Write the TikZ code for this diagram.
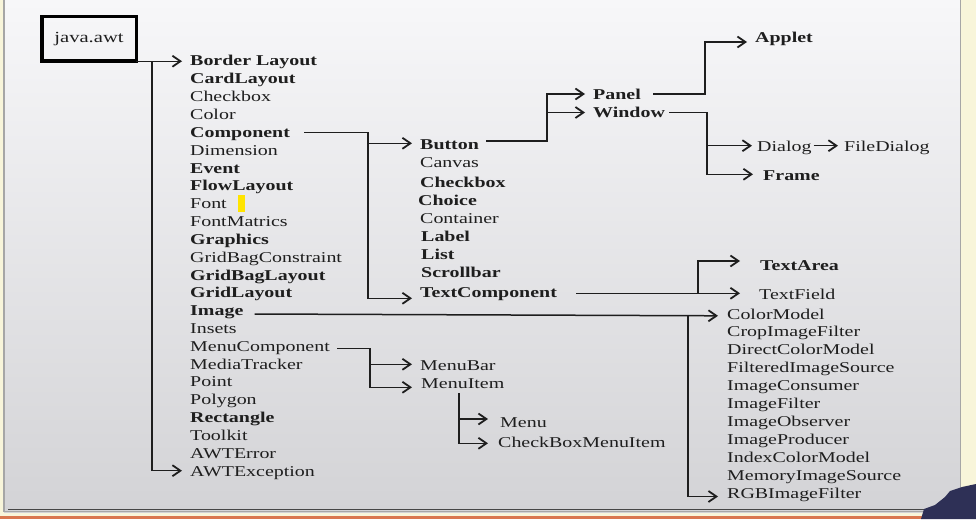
\documentclass[tikz,border=0pt]{standalone}
\usepackage{fontspec}
\setmainfont{Liberation Serif}[FakeStretch=1.33]
\usetikzlibrary{arrows.meta}
\definecolor{txt}{HTML}{1E1E1E}
\definecolor{paleyel}{HTML}{F8F5DA}
\definecolor{slidetop}{HTML}{F7F7F9}
\definecolor{slidebot}{HTML}{D3D3D6}
\definecolor{person}{HTML}{2E3056}
\definecolor{marker}{HTML}{FFE400}
\definecolor{redline}{HTML}{D9774F}
\tikzset{
  itm/.style={anchor=base west, inner sep=0pt, text=txt, font=\fontsize{15}{18}\selectfont},
  bitm/.style={itm, font=\fontsize{15}{18}\selectfont\bfseries},
  arr/.style={line width=1.5pt, draw=txt, -{Straight Barb[length=8pt,width=11pt,line width=1.8pt]}},
  topbox/.style={draw=black, line width=3.5pt, outer sep=0pt, minimum width=94.5pt, minimum height=44.5pt, inner sep=0pt, text=txt, font=\fontsize{15.5}{18}\selectfont}
}
\begin{document}
\begin{tikzpicture}[x=1pt,y=-1pt]
\useasboundingbox (0,0) rectangle (976,519);
% background
\fill[paleyel] (0,0) rectangle (976,519);
\shade[top color=slidetop, bottom color=slidebot] (4,0) rectangle (960.5,512);
\draw[gray!70, line width=1.2pt] (4,-2) -- (4,511.5) -- (960.5,511.5) -- (960.5,-2);
\draw[gray!55!black, line width=1pt] (8,509.5) -- (957,509.5);
\fill[redline] (0,515.5) rectangle (976,519);
\fill[marker] (238,195) rectangle (244.5,212);

% root box
\node[topbox] (box) at (89,39) {java.awt};

% left column
\node[bitm] (bl)   at (190,66)    {Border Layout};
\node[bitm] (card) at (190,83.8)  {CardLayout};
\node[itm]  (chk)  at (190,101.7) {Checkbox};
\node[itm]  (col)  at (190,119.5) {Color};
\node[bitm] (comp) at (190,137.3) {Component};
\node[itm]  (dim)  at (190,155.2) {Dimension};
\node[bitm] (evt)  at (190,173)   {Event};
\node[bitm] (flow) at (190,190.8) {FlowLayout};
\node[itm]  (font) at (190,208.6) {Font};
\node[itm]  (fm)   at (190,226.5) {FontMatrics};
\node[bitm] (gr)   at (190,244.3) {Graphics};
\node[itm]  (gbc)  at (190,262.1) {GridBagConstraint};
\node[bitm] (gbl)  at (190,280)   {GridBagLayout};
\node[bitm] (gl)   at (190,297.8) {GridLayout};
\node[bitm] (image) at (190,315.6) {Image};
\node[itm]  (ins)  at (190,333.5) {Insets};
\node[itm]  (menucomp) at (190,351.3) {MenuComponent};
\node[itm]  (mt)   at (190,369.1) {MediaTracker};
\node[itm]  (pt)   at (190,386.9) {Point};
\node[itm]  (poly) at (190,404.8) {Polygon};
\node[bitm] (rect) at (190,422.6) {Rectangle};
\node[itm]  (tk)   at (190,440.4) {Toolkit};
\node[itm]  (awterr) at (190,458.3) {AWTError};
\node[itm]  (awtex) at (190,476.1) {AWTException};

% component column
\node[bitm] (button) at (420,149) {Button};
\node[itm]  (canvas) at (420,167) {Canvas};
\node[bitm] (cchk)   at (420,187) {Checkbox};
\node[bitm] (choice) at (418,205) {Choice};
\node[itm]  (cont)   at (420,223) {Container};
\node[bitm] (label)  at (421,241) {Label};
\node[bitm] (list)   at (421,259) {List};
\node[bitm] (scroll) at (421,277) {Scrollbar};
\node[bitm] (tcomp)  at (420,297) {TextComponent};

% upper right
\node[bitm] (panel)  at (593,99)  {Panel};
\node[bitm] (window) at (593,117) {Window};
\node[bitm] (applet) at (755,43)  {Applet};
\node[itm]  (dialog) at (757,151) {Dialog};
\node[itm]  (fdialog) at (844,151) {FileDialog};
\node[bitm] (frame)  at (763,180) {Frame};
\node[bitm] (tarea)  at (760,270) {TextArea};
\node[itm]  (tfield) at (759,299) {TextField};

% image column
\node[itm] (colormodel) at (727,319)   {ColorModel};
\node[itm] (crop)   at (727,336.9) {CropImageFilter};
\node[itm] (dcm)    at (727,354.8) {DirectColorModel};
\node[itm] (fis)    at (727,372.7) {FilteredImageSource};
\node[itm] (icons)  at (727,390.6) {ImageConsumer};
\node[itm] (ifil)   at (727,408.5) {ImageFilter};
\node[itm] (iobs)   at (727,426.4) {ImageObserver};
\node[itm] (iprod)  at (727,444.3) {ImageProducer};
\node[itm] (icm)    at (727,462.2) {IndexColorModel};
\node[itm] (mis)    at (727,480.1) {MemoryImageSource};
\node[itm] (rgb)    at (727,498)   {RGBImageFilter};

% menu
\node[itm] (menubar)  at (420,370) {MenuBar};
\node[itm] (menuitem) at (421,388) {MenuItem};
\node[itm] (menu)     at (500,427) {Menu};
\node[itm] (cbmi)     at (498,447) {CheckBoxMenuItem};

% connectors: trunk
\draw[arr] (box.south east) -- ([shift={(-8,-4.75)}]bl.base west);
\draw[arr] ([xshift=15.5pt]box.south east) |- ([shift={(-8,-5.4)}]awtex.base west);

% Component
\draw[arr] ([shift={(14,-5)}]comp.base east) -| ([shift={(-52,1.3)}]tcomp.base west) -- ([shift={(-8,1.3)}]tcomp.base west);
\draw[arr] ([shift={(-52,-5.7)}]button.base west) -- ([shift={(-8,-5.7)}]button.base west);

% Button -> Panel, Window
\draw[arr] ([shift={(7,-8)}]button.base east) -| ([shift={(-46,-5)}]panel.base west) -- ([shift={(-8,-5)}]panel.base west);
\draw[arr] ([shift={(-46,-4.5)}]window.base west) -- ([shift={(-8,-4.5)}]window.base west);

% Panel -> Applet
\draw[arr] ([shift={(12,-5)}]panel.base east) -| ([shift={(-50,-1)}]applet.base west) -- ([shift={(-8,-1)}]applet.base west);

% Window -> Dialog, Frame
\draw[arr] ([shift={(4,-4.5)}]window.base east) -| ([shift={(-56,-5.7)}]frame.base west) -- ([shift={(-10,-5.7)}]frame.base west);
\draw[arr] ([shift={(-50,-5.3)}]dialog.base west) -- ([shift={(-5,-5.3)}]dialog.base west);
\draw[arr] ([shift={(2,-5.3)}]dialog.base east) -- ([shift={(-6,-5.3)}]fdialog.base west);

% TextComponent -> TextArea, TextField
\draw[arr] ([shift={(19,-3.7)}]tcomp.base east) -- ([shift={(-19,-5.7)}]tfield.base west);
\draw[arr] ([shift={(-61,-5.7)}]tfield.base west) |- ([shift={(-20,-9)}]tarea.base west);

% Image
\draw[arr] ([shift={(11,-1.6)}]image.base east) -- ([shift={(-9,-3.2)}]colormodel.base west);
\draw[arr] ([shift={(-39,-3.2)}]colormodel.base west) |- ([shift={(-9,-1.5)}]rgb.base west);

% MenuComponent
\draw[arr] ([shift={(7,-3)}]menucomp.base east) -| ([shift={(-51,-0.7)}]menuitem.base west) -- ([shift={(-9,-0.7)}]menuitem.base west);
\draw[arr] ([shift={(-50,-5.7)}]menubar.base west) -- ([shift={(-8,-5.7)}]menubar.base west);

% MenuItem -> Menu, CheckBoxMenuItem
\draw[arr] ([shift={(38,5)}]menuitem.base west) |- ([shift={(-10,-3.7)}]cbmi.base west);
\draw[arr] ([shift={(-41,-8)}]menu.base west) -- ([shift={(-12,-8)}]menu.base west);

% presenter silhouette
\fill[person] (921,519) -- (924,509) -- (935,505) -- (945,497) -- (950,491) -- (962,487) -- (976,484) -- (976,519) -- cycle;
\end{tikzpicture}
\end{document}
